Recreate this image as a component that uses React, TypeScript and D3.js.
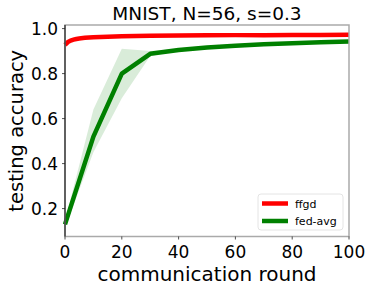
import React, { useEffect, useRef } from 'react';
import * as d3 from 'd3';

const ffgdRounds = [0, 1, 2, 3, 4, 5, 7, 10, 15, 20, 30, 40, 50, 60, 70, 80, 90, 100];
const ffgdAcc = [0.928, 0.94, 0.947, 0.951, 0.954, 0.956, 0.959, 0.962, 0.964, 0.966, 0.968, 0.969, 0.97, 0.971, 0.971, 0.972, 0.972, 0.973];

const fedRounds = [0, 10, 20, 30, 40, 50, 60, 70, 80, 90, 100];
const fedAcc = [0.13, 0.52, 0.8, 0.888, 0.905, 0.916, 0.924, 0.93, 0.935, 0.939, 0.943];
const fedLow = [0.115, 0.45, 0.69, 0.878, 0.9, 0.912, 0.92, 0.927, 0.932, 0.936, 0.94];
const fedHigh = [0.145, 0.64, 0.91, 0.9, 0.91, 0.92, 0.928, 0.933, 0.938, 0.942, 0.946];

const xTicks = [0, 20, 40, 60, 80, 100];
const yTicks = [0.2, 0.4, 0.6, 0.8, 1.0];

const App: React.FC = () => {
    const svgRef = useRef<SVGSVGElement>(null);

    useEffect(() => {
        if (!svgRef.current) return;
        const svg = d3.select(svgRef.current);
        svg.selectAll('*').remove();

        const left = 65, right = 349, top = 25, bottom = 236.5;
        const font = 'DejaVu Sans, sans-serif';

        const x = d3.scaleLinear().domain([0, 100]).range([left, right]);
        const y = d3.scaleLinear().domain([0.076, 1.016]).range([bottom, top]);

        // band
        const area = d3.area<number>()
            .x((_, i) => x(fedRounds[i]))
            .y0((_, i) => y(fedLow[i]))
            .y1((_, i) => y(fedHigh[i]));
        svg.append('path')
            .attr('d', area(fedAcc)!)
            .attr('fill', 'green')
            .attr('fill-opacity', 0.15);

        const line = d3.line<number>();
        svg.append('path')
            .attr('d', line(ffgdAcc.map((v, i) => [x(ffgdRounds[i]), y(v)]))!)
            .attr('fill', 'none')
            .attr('stroke', '#ff0000')
            .attr('stroke-width', 4.5);

        svg.append('path')
            .attr('d', line(fedAcc.map((v, i) => [x(fedRounds[i]), y(v)]))!)
            .attr('fill', 'none')
            .attr('stroke', '#008000')
            .attr('stroke-width', 4.5)
            .attr('stroke-linejoin', 'round');

        // spines
        svg.append('rect')
            .attr('x', left).attr('y', top)
            .attr('width', right - left).attr('height', bottom - top)
            .attr('fill', 'none').attr('stroke', '#aaaaaa').attr('stroke-width', 1.5);
        svg.append('line')
            .attr('x1', left).attr('x2', left).attr('y1', top).attr('y2', bottom)
            .attr('stroke', '#222').attr('stroke-width', 1.2);

        // ticks
        const xg = svg.append('g');
        xTicks.forEach(t => {
            xg.append('line').attr('x1', x(t)).attr('x2', x(t)).attr('y1', bottom).attr('y2', bottom + 3)
                .attr('stroke', '#222').attr('stroke-width', 0.8);
            xg.append('text').attr('x', x(t)).attr('y', 258).attr('text-anchor', 'middle')
                .attr('font-family', font).attr('font-size', 17).attr('fill', '#000').text(String(t));
        });
        const yg = svg.append('g');
        yTicks.forEach(t => {
            yg.append('line').attr('x1', left - 3).attr('x2', left).attr('y1', y(t)).attr('y2', y(t))
                .attr('stroke', '#222').attr('stroke-width', 0.8);
            yg.append('text').attr('x', 58).attr('y', y(t) + 6).attr('text-anchor', 'end')
                .attr('font-family', font).attr('font-size', 17).attr('fill', '#000').text(t.toFixed(1));
        });

        // title & labels
        svg.append('text').attr('x', (left + right) / 2).attr('y', 20).attr('text-anchor', 'middle')
            .attr('font-family', font).attr('font-size', 18.5).text('MNIST, N=56, s=0.3');
        svg.append('text').attr('x', (left + right) / 2).attr('y', 281).attr('text-anchor', 'middle')
            .attr('font-family', font).attr('font-size', 20).text('communication round');
        svg.append('text').attr('transform', `translate(23,${(top + bottom) / 2}) rotate(-90)`)
            .attr('text-anchor', 'middle')
            .attr('font-family', font).attr('font-size', 19.5).text('testing accuracy');

        // legend
        const lg = svg.append('g');
        lg.append('rect').attr('x', 258).attr('y', 194).attr('width', 85).attr('height', 36)
            .attr('rx', 3).attr('fill', '#fff').attr('fill-opacity', 0.8)
            .attr('stroke', '#dddddd').attr('stroke-width', 0.8);
        const items = [{ name: 'ffgd', color: '#ff0000' }, { name: 'fed-avg', color: '#008000' }];
        items.forEach((it, i) => {
            const cy = 203.5 + i * 17.5;
            lg.append('line').attr('x1', 262).attr('x2', 288).attr('y1', cy).attr('y2', cy)
                .attr('stroke', it.color).attr('stroke-width', 4.5);
            lg.append('text').attr('x', 295).attr('y', cy + 4).attr('font-family', font)
                .attr('font-size', 11).attr('fill', '#000').text(it.name);
        });
    }, []);

    return (
        <svg ref={svgRef} width={374} height={290}
            style={{ position: 'absolute', left: 0, top: 0, background: '#fff' }} />
    );
};

export default App;
